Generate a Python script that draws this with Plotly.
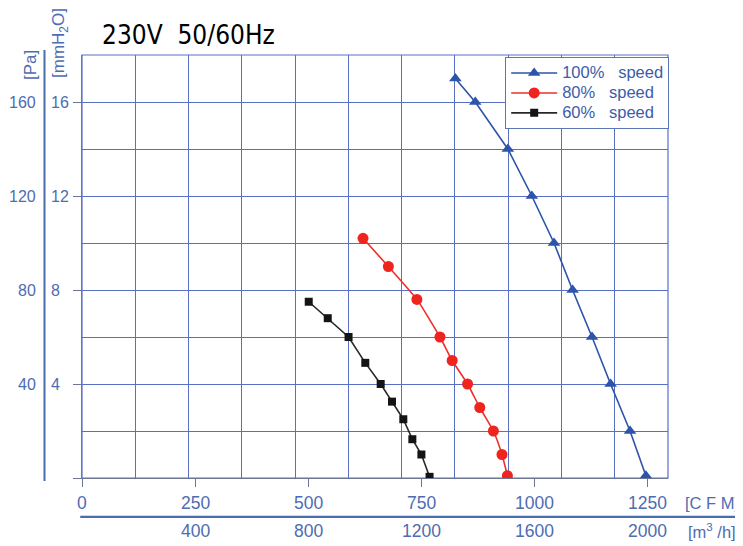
import plotly.graph_objects as go

# ---------------- data ----------------
speed100_cfm = [825, 869, 941, 994, 1043, 1084, 1127, 1168, 1211, 1246]
speed100_pa = [170, 160, 140, 120, 100, 80, 60, 40, 20, 1]

speed80_cfm = [621, 677, 740, 791, 818, 852, 879, 909, 928, 940]
speed80_pa = [102, 90, 76, 60, 50, 40, 30, 20, 10, 1]

speed60_cfm = [501, 543, 589, 626, 660, 685, 710, 730, 750, 768]
speed60_pa = [75, 68, 60, 49, 40, 32.5, 25, 16.5, 10, 0.5]

series_names = ["100%", "80%", "60%"]
series_suffix = "speed"

cfm_ticks = [0, 250, 500, 750, 1000, 1250]
m3h_tick_positions = [250, 500, 750, 1000, 1250]
m3h_tick_labels = ["400", "800", "1200", "1600", "2000"]
m3h_grid = list(range(0, 2201, 200))
CFM_PER_M3H = 1 / 1.699

pa_ticks = [40, 80, 120, 160]
mm_ticks = ["4", "8", "12", "16"]
pa_grid = list(range(0, 181, 20))

title_text = "230V\u00a0\u00a050/60Hz"

# ---------------- styles ----------------
BLUE_TXT = "rgb(78,108,178)"
GRID = "rgb(88,112,196)"
AXIS = "rgb(110,118,150)"
SEP = "rgb(72,108,172)"
FONT = "Liberation Sans, Arial, sans-serif"


def legend_label(name):
    return ("<span style='font-size:16.5px'>" + name + "\u00a0\u00a0\u00a0"
            + series_suffix + "</span>")


fig = go.Figure()
fig.add_trace(go.Scatter(
    x=speed100_cfm, y=speed100_pa, name=legend_label(series_names[0]), mode="lines+markers",
    line=dict(color="rgb(44,84,170)", width=1.6),
    marker=dict(symbol="triangle-up", size=11, color="rgb(44,84,170)")))
fig.add_trace(go.Scatter(
    x=speed80_cfm, y=speed80_pa, name=legend_label(series_names[1]), mode="lines+markers",
    line=dict(color="rgb(236,48,40)", width=1.6, shape="spline", smoothing=0.5),
    marker=dict(symbol="circle", size=11, color="rgb(240,36,30)")))
fig.add_trace(go.Scatter(
    x=speed60_cfm, y=speed60_pa, name=legend_label(series_names[2]), mode="lines+markers",
    line=dict(color="rgb(40,40,40)", width=1.6),
    marker=dict(symbol="square", size=8, color="rgb(20,20,20)")))

x_max = 2200 * CFM_PER_M3H

fig.update_xaxes(
    range=[0, x_max], tickmode="array", tickvals=cfm_ticks, showticklabels=False,
    ticks="outside", ticklen=8, tickcolor=AXIS, tickwidth=1.3,
    showgrid=False, zeroline=False, showline=True, linecolor=AXIS, linewidth=1.3,
    minor=dict(tickmode="array", tickvals=[m * CFM_PER_M3H for m in m3h_grid],
               showgrid=True, gridcolor=GRID, gridwidth=1.2, ticks=""),
)
fig.update_yaxes(
    range=[0, 180], tickmode="array", tickvals=[0] + pa_ticks, showticklabels=False,
    ticks="outside", ticklen=8, tickcolor=AXIS, tickwidth=1.3,
    showgrid=True, gridcolor=GRID, gridwidth=1.2, zeroline=False,
    showline=True, linecolor=AXIS, linewidth=1.3,
    minor=dict(tickmode="array", tickvals=pa_grid, showgrid=True,
               gridcolor=GRID, gridwidth=1.2, ticks=""),
)

annotations = []
# Pa labels (right aligned) and mmH2O labels (left aligned)
for pa, mm in zip(pa_ticks, mm_ticks):
    annotations.append(dict(x=0, xref="paper", y=pa, yref="y", text=str(pa),
                            xanchor="right", yanchor="middle", xshift=-44,
                            showarrow=False, font=dict(size=16, color=BLUE_TXT, family=FONT)))
    annotations.append(dict(x=0, xref="paper", y=pa, yref="y", text=mm,
                            xanchor="left", yanchor="middle", xshift=-33,
                            showarrow=False, font=dict(size=16, color=BLUE_TXT, family=FONT)))
# CFM labels
for c in cfm_ticks:
    annotations.append(dict(x=c, xref="x", y=0, yref="paper", text=str(c),
                            xanchor="center", yanchor="middle", yshift=-25,
                            showarrow=False, font=dict(size=17.5, color=BLUE_TXT, family=FONT)))
# m3/h labels
for c, lab in zip(m3h_tick_positions, m3h_tick_labels):
    annotations.append(dict(x=c, xref="x", y=0, yref="paper", text=lab,
                            xanchor="center", yanchor="middle", yshift=-53,
                            showarrow=False, font=dict(size=17.5, color=BLUE_TXT, family=FONT)))
# unit labels
annotations.append(dict(x=1, xref="paper", y=0, yref="paper", text="[C F M]",
                        xanchor="left", yanchor="middle", xshift=15, yshift=-25,
                        showarrow=False, font=dict(size=16.5, color=BLUE_TXT, family=FONT)))
annotations.append(dict(x=1, xref="paper", y=0, yref="paper", text="[m<sup>3</sup> /h]",
                        xanchor="left", yanchor="middle", xshift=18, yshift=-53,
                        showarrow=False, font=dict(size=16.5, color=BLUE_TXT, family=FONT)))
annotations.append(dict(x=0, xref="paper", y=1, yref="paper", text="[Pa]", textangle=-90,
                        xanchor="center", yanchor="middle", xshift=-52, yshift=-10,
                        showarrow=False, font=dict(size=17, color=BLUE_TXT, family=FONT)))
annotations.append(dict(x=0, xref="paper", y=1, yref="paper", text="[mmH<sub>2</sub>O]",
                        textangle=-90, xanchor="center", yanchor="middle", xshift=-22, yshift=12,
                        showarrow=False, font=dict(size=17, color=BLUE_TXT, family=FONT)))
# title
annotations.append(dict(x=0, xref="paper", y=1, yref="paper", text=title_text,
                        xanchor="left", yanchor="middle", xshift=18, yshift=20,
                        showarrow=False,
                        font=dict(size=26, color="black", family="DejaVu Sans Condensed, DejaVu Sans")))

shapes = [
    dict(type="rect", xref="paper", yref="paper", x0=0, x1=1, y0=0, y1=1,
         line=dict(color=GRID, width=1.2), layer="below"),
    dict(type="line", xref="paper", yref="paper", x0=-0.064, x1=-0.064, y0=-0.007, y1=1.012,
         line=dict(color=SEP, width=2)),
    dict(type="line", xref="paper", yref="paper", x0=-0.003, x1=1.13, y0=-0.092, y1=-0.092,
         line=dict(color=SEP, width=2.2)),
]

# the page adds an 8px body margin, so the figure is 8px smaller and shifted
fig.update_layout(
    width=735, height=538,
    margin=dict(l=74, r=75, t=47, b=68),
    paper_bgcolor="white", plot_bgcolor="white",
    showlegend=True,
    legend=dict(x=1.002, xanchor="right", y=0.995, yanchor="top",
                bgcolor="white", bordercolor="rgb(90,118,180)", borderwidth=1,
                font=dict(size=13, color="rgb(60,92,170)", family=FONT),
                itemwidth=46, tracegroupgap=0),
    annotations=annotations,
    shapes=shapes,
)

fig.write_html("out.html")
